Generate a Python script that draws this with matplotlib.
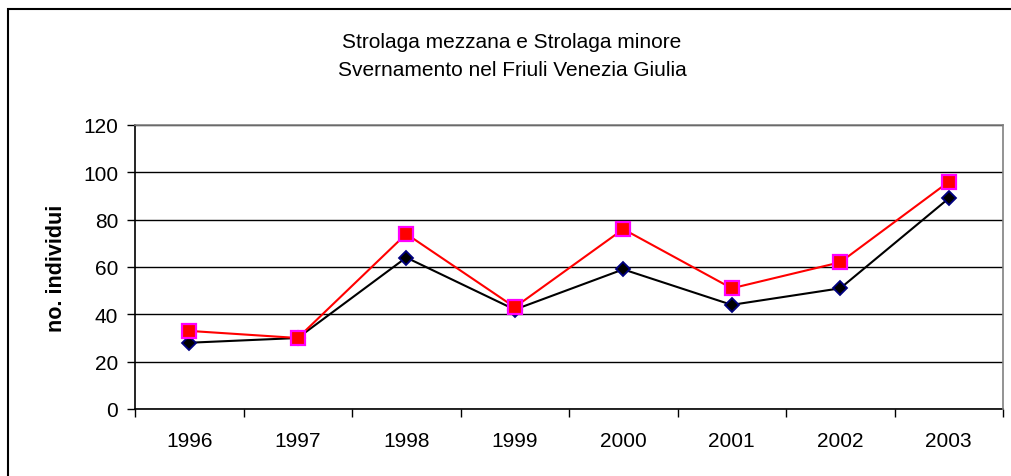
import matplotlib
matplotlib.use("Agg")
import matplotlib.pyplot as plt
from matplotlib.patches import Rectangle

plt.rcParams["font.family"] = ["Liberation Sans", "DejaVu Sans"]

years = ["1996", "1997", "1998", "1999", "2000", "2001", "2002", "2003"]
totale = [33, 30, 74, 43, 76, 51, 62, 96]
mezzana = [28, 30, 64, 42, 59, 44, 51, 89]
y_ticks = [0, 20, 40, 60, 80, 100, 120]

fig = plt.figure(figsize=(10.11, 4.77), dpi=100)
ax = fig.add_axes([135 / 1011, 1 - 410 / 477, 868 / 1011, 284 / 477])

x = list(range(len(years)))
ax.plot(x, mezzana, color="black", lw=1.5, marker="D", ms=7.5,
        mfc="black", mec="#000080", mew=1.3, zorder=3)
ax.plot(x, totale, color="red", lw=1.5, marker="s", ms=10,
        mfc="red", mec="magenta", mew=1.6, zorder=4)

ax.set_xlim(-0.5, len(years) - 0.5)
ax.set_ylim(0, 120)
ax.set_yticks(y_ticks)
ax.set_yticklabels([str(v) for v in y_ticks], fontsize=15)
ax.set_xticks(x)
ax.set_xticklabels(years, fontsize=15)
ax.set_xticks([i + 0.5 for i in range(-1, len(years))], minor=True)
ax.tick_params(axis="x", which="major", length=0, pad=16)
ax.tick_params(axis="x", which="minor", length=6, width=1, direction="out")
ax.tick_params(axis="y", length=6, width=1, direction="out", pad=6)

ax.grid(True, axis="y", color="black", lw=1)
ax.set_axisbelow(True)
for s in ["top", "right"]:
    ax.spines[s].set_color("#808080")
    ax.spines[s].set_linewidth(1.2)
    ax.spines[s].set_zorder(5)
ax.spines["left"].set_linewidth(1.2)
ax.spines["bottom"].set_linewidth(1.2)

ax.set_ylabel("no. individui", fontsize=15.5, fontweight="bold", labelpad=12)

fig.text(512 / 1011, 1 - 42 / 477, "Strolaga mezzana e Strolaga minore",
         ha="center", va="center", fontsize=15)
fig.text(512 / 1011, 1 - 71 / 477, "Svernamento nel Friuli Venezia Giulia",
         ha="center", va="center", fontsize=15)

# outer chart frame (cut at right and bottom edges)
fig.patches.append(Rectangle((8 / 1011, -0.1), 1.2, 1 - 10 / 477 + 0.1,
                             transform=fig.transFigure, fill=False,
                             edgecolor="black", lw=1.5))

fig.savefig("out.png", dpi=100)
